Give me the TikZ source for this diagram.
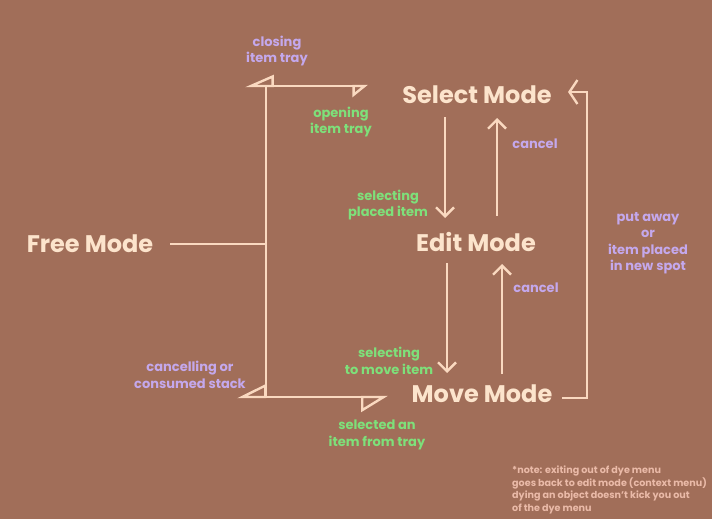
\documentclass[tikz,border=0pt]{standalone}
\usepackage{fontspec}
\setmainfont{Poppins}
\usetikzlibrary{arrows.meta}
\definecolor{bgc}{RGB}{161,110,89}
\definecolor{linec}{RGB}{250,217,192}
\definecolor{modec}{RGB}{252,228,204}
\definecolor{greenc}{RGB}{126,224,122}
\definecolor{purplec}{RGB}{196,168,236}
\definecolor{notec}{RGB}{234,186,168}
\begin{document}
\begin{tikzpicture}[x=1pt,y=-1pt,
  mode/.style={text=modec,font=\bfseries\fontsize{24}{28}\selectfont,inner sep=0pt},
  glabel/.style={text=greenc,font=\bfseries\fontsize{13}{16.5}\selectfont,align=center,inner sep=0pt},
  plabel/.style={text=purplec,font=\bfseries\fontsize{13}{16.5}\selectfont,align=center,inner sep=0pt},
  wire/.style={draw=linec,line width=2.4pt},
  vee/.style={wire,-{Straight Barb[length=9pt,width=18pt]}},
]
\fill[bgc] (0,0) rectangle (712,519);
\useasboundingbox (0,0) rectangle (712,519);

% modes
\node[mode] (free) at (90,244) {Free Mode};
\node[mode] (select) at (477,95) {Select Mode};
\node[mode] (edit) at (476,242) {Edit Mode};
\node[mode] (move) at (482,394) {Move Mode};

% junction coordinates
\coordinate (fj) at (170,244);
\coordinate (j) at (266,244);
\coordinate (jt) at (266,86);
\coordinate (jb) at (266,397);
\coordinate (tl) at (245,86);
\coordinate (tr) at (368,86);
\coordinate (bl) at (237,397);
\coordinate (br) at (388,397);

\draw[wire] (fj) -- (j);
\draw[wire] (jt) -- (jb);
\draw[wire,-{Triangle[open,right,length=26pt,width=22pt]}] (jt) -- (tl);
\draw[wire,-{Triangle[open,right,length=14pt,width=22pt]}] (jt) -- (tr);
\draw[wire,-{Triangle[open,right,length=27pt,width=26pt]}] (jb) -- (bl);
\draw[wire,-{Triangle[open,right,length=25pt,width=30pt]}] (jb) -- (br);

% vertical arrows
\coordinate (sd0) at (445,117);
\coordinate (sd1) at (445,218);
\coordinate (su0) at (497,216);
\coordinate (su1) at (497,118);
\coordinate (ed0) at (447,263);
\coordinate (ed1) at (447,373);
\coordinate (eu0) at (502,374);
\coordinate (eu1) at (502,264);
\draw[vee] (sd0) -- (sd1);
\draw[vee] (su0) -- (su1);
\draw[vee] (ed0) -- (ed1);
\draw[vee] (eu0) -- (eu1);

% right loop
\coordinate (r0) at (562,398);
\coordinate (r1) at (587,398);
\coordinate (r2) at (587,92);
\coordinate (r3) at (568,92);
\draw[wire,-{Straight Barb[length=8pt,width=24pt]}] (r0) -- (r1) -- (r2) -- (r3);

% labels
\node[plabel] (l1) at (277,51) {closing\\item tray};
\node[glabel] (l2) at (341,122) {opening\\item tray};
\node[plabel] (l3) at (535,144) {cancel};
\node[glabel] (l4) at (388,205) {selecting\\placed item};
\node[plabel] (l5) at (536,288) {cancel};
\node[glabel] (l6) at (389,361) {selecting\\to move item};
\node[plabel] (l7) at (648,243) {put away\\or\\item placed\\in new spot};
\node[glabel] (l8) at (377,435) {selected an\\item from tray};
\node[plabel] (l9) at (190,375) {cancelling or\\consumed stack};
\node[text=notec,font=\bfseries\fontsize{9.6}{12.5}\selectfont,align=left,inner sep=0pt,anchor=north west] (note) at (512,466) {*note: exiting out of dye menu\\goes back to edit mode (context menu)\\dying an object doesn't kick you out\\of the dye menu};
\end{tikzpicture}
\end{document}
